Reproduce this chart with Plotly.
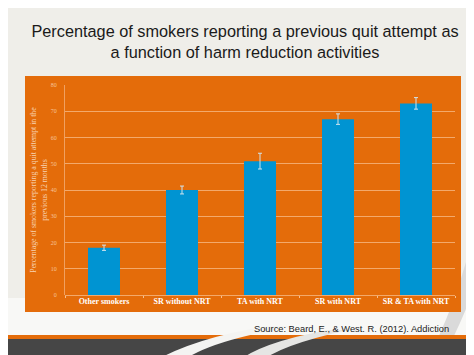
import plotly.graph_objects as go

categories = ["Other smokers", "SR without NRT", "TA with NRT", "SR with NRT", "SR & TA with NRT"]
values = [18, 40, 51, 67, 73]
errors = [1.0, 1.5, 3.0, 2.0, 2.2]
y_ticks = [0, 10, 20, 30, 40, 50, 60, 70, 80]

W, H = 474, 355
L, R, T, B = 57, 27, 77, 68
PW, PH = W - L - R, H - T - B

def px(x):
    return (x - L) / PW

def py(y):
    return (H - B - y) / PH

ORANGE = "#E46C0A"
BLUE = "#0094D2"

fig = go.Figure()
fig.add_trace(go.Bar(
    x=categories, y=values,
    marker=dict(color=BLUE, line=dict(width=0)),
    error_y=dict(type="data", array=errors, visible=True,
                 color="#cfe4ee", thickness=1, width=2),
    width=0.41,
))

shapes = []
# whiter band below panel
shapes.append(dict(type="rect", xref="paper", yref="paper", layer="below",
                   x0=px(0), x1=px(W), y0=py(327), y1=py(290),
                   fillcolor="#f8f8f6", line=dict(width=0)))
# right gray swoosh
shapes.append(dict(type="path", xref="paper", yref="paper", layer="below",
                   path=f"M {px(474)},{py(180)} Q {px(462)},{py(260)} {px(430)},{py(330)} "
                        f"L {px(445)},{py(330)} Q {px(474)},{py(270)} {px(474)},{py(240)} Z",
                   fillcolor="#dadada", line=dict(width=0)))
# orange panel
shapes.append(dict(type="rect", xref="paper", yref="paper", layer="below",
                   x0=px(17), x1=px(453), y0=py(304), y1=py(68),
                   fillcolor=ORANGE, line=dict(width=0)))
# bottom orange stripe
shapes.append(dict(type="rect", xref="paper", yref="paper", layer="below",
                   x0=px(0), x1=px(W), y0=py(331), y1=py(327),
                   fillcolor=ORANGE, line=dict(width=0)))
# bottom dark band
shapes.append(dict(type="rect", xref="paper", yref="paper", layer="below",
                   x0=px(0), x1=px(W), y0=py(H), y1=py(331),
                   fillcolor="#464646", line=dict(width=0)))
# white swooshes
shapes.append(dict(type="path", xref="paper", yref="paper", layer="below",
                   path=f"M {px(143)},{py(355)} Q {px(185)},{py(330)} {px(260)},{py(318)} "
                        f"L {px(290)},{py(318)} Q {px(200)},{py(332)} {px(172)},{py(355)} Z",
                   fillcolor="#f4f4f2", line=dict(width=0)))
shapes.append(dict(type="path", xref="paper", yref="paper", layer="below",
                   path=f"M {px(228)},{py(355)} Q {px(250)},{py(335)} {px(320)},{py(322)} "
                        f"L {px(340)},{py(322)} Q {px(268)},{py(338)} {px(252)},{py(355)} Z",
                   fillcolor="#e6e6e4", line=dict(width=0)))

fig.update_layout(
    width=W, height=H,
    margin=dict(l=L, r=R, t=T, b=B),
    paper_bgcolor="#efeee9",
    plot_bgcolor=ORANGE,
    showlegend=False,
    shapes=shapes,
    title=dict(
        text="Percentage of smokers reporting a previous quit attempt as<br>a function of harm reduction activities",
        x=0.5, xref="container", xanchor="center",
        y=1 - 29 / H, yanchor="top",
        font=dict(family="Liberation Sans, Arial, sans-serif", size=16.3, color="#1a1a1a"),
    ),
    xaxis=dict(
        range=[-0.5, 4.5],
        tickfont=dict(family="Liberation Serif, Times New Roman, serif", size=8,
                      color="#ffffff", weight="bold"),
        tickangle=0,
        ticks="outside", tickson="boundaries", ticklen=2, tickcolor="#f6c08f",
        showgrid=False, showline=False, zeroline=False,
        fixedrange=True,
    ),
    yaxis=dict(
        range=[0, 80], tickvals=y_ticks,
        tickfont=dict(family="Liberation Serif, Times New Roman, serif", size=6, color="#f6c39a"),
        showgrid=True, gridcolor="#f3a96b", gridwidth=1,
        zeroline=True, zerolinecolor="#f3a96b", zerolinewidth=1,
        showline=True, linecolor="#f0a060", linewidth=1,
        ticks="", ticklabelstandoff=6,
        title=dict(
            text="Percentage of smokers reporting a quit attempt in the<br>previous 12 months",
            font=dict(family="Liberation Serif, Times New Roman, serif", size=7.8, color="#f8d3b3"),
            standoff=2,
        ),
    ),
    annotations=[dict(
        text="Source: Beard, E., & West. R. (2012). Addiction",
        xref="paper", yref="paper", x=px(443), y=py(321),
        xanchor="right", yanchor="middle", showarrow=False,
        font=dict(family="Liberation Sans, Arial, sans-serif", size=9.3, color="#1a1a1a"),
    )],
)

fig.write_html("out.html")
